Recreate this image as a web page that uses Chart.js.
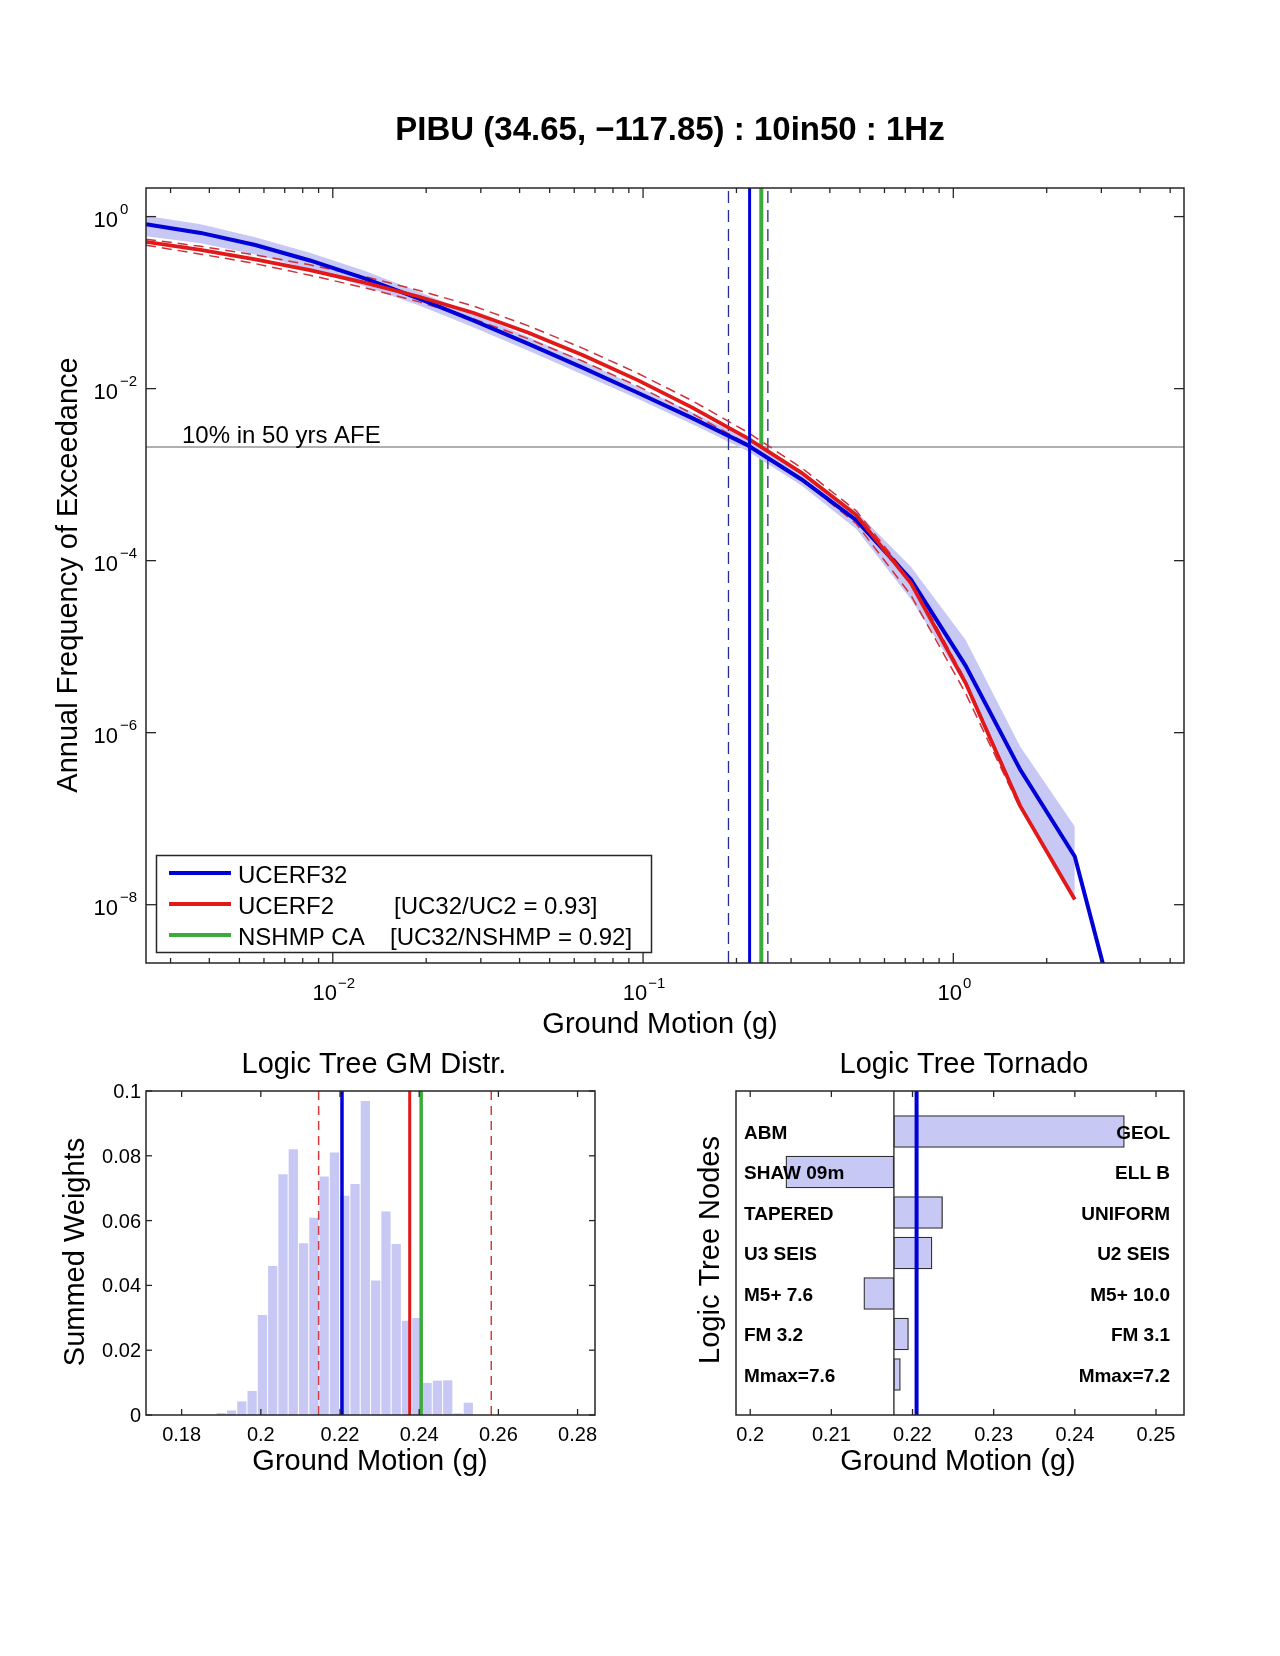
<!DOCTYPE html>
<html>
<head>
<meta charset="utf-8">
<script src="https://cdn.jsdelivr.net/npm/chart.js@4.4.1/dist/chart.umd.min.js"></script>
<style>
  html, body { margin: 0; padding: 0; background: #fff; }
  #page { position: relative; width: 1280px; height: 1656px; background: #fff; overflow: hidden; }
  canvas { position: absolute; }
</style>
</head>
<body>
<div id="page">
  <canvas id="hazard" width="1280" height="1060" style="left:0;top:0;width:1280px;height:1060px"></canvas>
  <canvas id="gmHist" width="640" height="470" style="left:0;top:1030px;width:640px;height:470px"></canvas>
  <canvas id="tornado" width="640" height="470" style="left:640px;top:1030px;width:640px;height:470px"></canvas>
</div>
<script>
// ---------------- data ----------------

// hazard curves (ground motion in g, annual frequency of exceedance)
var gmLevels = [0.0025, 0.00375, 0.005625, 0.0084375, 0.01265625, 0.01898438, 0.02847656, 0.04271484,
  0.06407227, 0.0961084, 0.1441626, 0.2162439, 0.3243658, 0.4865487, 0.7298231, 1.094735, 1.642102, 2.463153, 3.69473];
var ucerf32Afe = [0.813, 0.646, 0.468, 0.309, 0.191, 0.111, 0.0617, 0.0331, 0.0174, 0.00895, 0.00454, 0.00222,
  8.79e-4, 2.95e-4, 6.03e-5, 6.03e-6, 3.72e-7, 3.63e-8, 1.38e-10];
var ucerf32Upper = [1.023, 0.813, 0.575, 0.380, 0.234, 0.133, 0.0741, 0.0398, 0.0209, 0.0105, 0.00533, 0.00261,
  0.00106, 3.72e-4, 8.51e-5, 1.20e-5, 6.92e-7, 8.13e-8, null];
var ucerf32Lower = [0.589, 0.490, 0.363, 0.245, 0.155, 0.0923, 0.0513, 0.0275, 0.0145, 0.00762, 0.00386, 0.00189,
  7.48e-4, 2.34e-4, 3.55e-5, 3.55e-6, 1.41e-7, 1.23e-8, null];
var ucerf2Afe = [0.509, 0.411, 0.319, 0.239, 0.171, 0.117, 0.0757, 0.0446, 0.0245, 0.01256, 0.00601, 0.00267,
  0.00105, 3.39e-4, 5.50e-5, 3.80e-6, 1.41e-7, 1.15e-8, null];
var ucerf2Upper = [0.546, 0.451, 0.358, 0.275, 0.201, 0.138, 0.0910, 0.0536, 0.0294, 0.0151, 0.00723, 0.00314,
  0.00120, 3.80e-4, 6.03e-5, 4.07e-6, 1.48e-7, null, null];
var ucerf2Lower = [0.465, 0.366, 0.284, 0.208, 0.149, 0.102, 0.0644, 0.0379, 0.0208, 0.0107, 0.00512, 0.00228,
  8.71e-4, 2.69e-4, 3.98e-5, 2.88e-6, 1.32e-7, null, null];

var afe10in50 = 0.0021;
var gmUcerf32 = 0.2205;
var gmUcerf32Range = [0.1885, 0.2525];
var gmUcerf2 = 0.2376;
var gmUcerf2Range = [0.2146, 0.2582];
var gmNshmp = 0.2405;

var seriesNames = ['UCERF32', 'UCERF2', 'NSHMP CA'];
var ratioLabels = ['', '[UC32/UC2 = 0.93]', '[UC32/NSHMP = 0.92]'];
var xDecadeExps = [-2, -1, 0];
var yDecadeExps = [0, -2, -4, -6, -8];

// logic tree ground motion distribution
var binCenters = [0.1900, 0.1926, 0.1952, 0.1978, 0.2004, 0.2030, 0.2056, 0.2082, 0.2108, 0.2134, 0.2160, 0.2186,
  0.2212, 0.2238, 0.2264, 0.2290, 0.2316, 0.2342, 0.2368, 0.2394, 0.2420, 0.2446, 0.2472, 0.2498, 0.2524];
var binWeights = [0.0005, 0.0013, 0.0041, 0.0073, 0.0308, 0.0459, 0.0742, 0.0819, 0.0529, 0.0608, 0.0735, 0.0809,
  0.0676, 0.0712, 0.0968, 0.0414, 0.0627, 0.0527, 0.0290, 0.0298, 0.0098, 0.0105, 0.0106, 0.0004, 0.0037];
var histXTicks = [0.18, 0.2, 0.22, 0.24, 0.26, 0.28];
var histXLabels = ['0.18', '0.2', '0.22', '0.24', '0.26', '0.28'];
var histYTicks = [0, 0.02, 0.04, 0.06, 0.08, 0.1];
var histYLabels = ['0', '0.02', '0.04', '0.06', '0.08', '0.1'];

// logic tree tornado
var nodesLeft = ['ABM', 'SHAW 09m', 'TAPERED', 'U3 SEIS', 'M5+ 7.6', 'FM 3.2', 'Mmax=7.6'];
var nodesRight = ['GEOL', 'ELL B', 'UNIFORM', 'U2 SEIS', 'M5+ 10.0', 'FM 3.1', 'Mmax=7.2'];
var tornadoBase = 0.2177;
var tornadoEnd = [0.2461, 0.2044, 0.2237, 0.2224, 0.2140, 0.2195, 0.2185];
var tornadoXTicks = [0.2, 0.21, 0.22, 0.23, 0.24, 0.25];
var tornadoXLabels = ['0.2', '0.21', '0.22', '0.23', '0.24', '0.25'];

// ---------------- helpers ----------------
var FONT = '"Liberation Sans", Arial, Helvetica, sans-serif';
var INK = '#000';
var AXIS = '#262626';
var BLUE = 'rgb(0,0,215)';
var RED = 'rgb(225,25,25)';
var GREEN = 'rgb(60,170,60)';
var LAVENDER = 'rgb(200,200,245)';

function pts(xs, ys) {
  var out = [];
  for (var i = 0; i < xs.length; i++) {
    if (ys[i] != null) out.push({x: xs[i], y: ys[i]});
  }
  return out;
}
function vline(x, y0, y1) { return [{x: x, y: y0}, {x: x, y: y1}]; }
function hline(y, x0, x1) { return [{x: x0, y: y}, {x: x1, y: y}]; }

function lineSet(data, color, width, order, extra) {
  var d = {type: 'line', data: data, borderColor: color, borderWidth: width, pointRadius: 0,
    fill: false, tension: 0, order: order, borderCapStyle: 'butt'};
  for (var k in (extra || {})) d[k] = extra[k];
  return d;
}

function setFont(ctx, size, bold) { ctx.font = (bold ? 'bold ' : '') + size + 'px ' + FONT; }
function text(ctx, s, x, y, size, align, bold) {
  setFont(ctx, size, bold);
  ctx.textAlign = align || 'left';
  ctx.textBaseline = 'alphabetic';
  ctx.fillStyle = INK;
  ctx.fillText(s, x, y);
}
function vtext(ctx, s, baseX, centerY, size) {
  ctx.save();
  ctx.translate(baseX, centerY);
  ctx.rotate(-Math.PI / 2);
  text(ctx, s, 0, 0, size, 'center');
  ctx.restore();
}
function seg(ctx, x1, y1, x2, y2) {
  ctx.beginPath(); ctx.moveTo(x1, y1); ctx.lineTo(x2, y2); ctx.stroke();
}
function box(ctx, a) {
  ctx.strokeStyle = AXIS; ctx.lineWidth = 1.5; ctx.setLineDash([]);
  ctx.strokeRect(a.left, a.top, a.right - a.left, a.bottom - a.top);
}
function expLabel(e) { return e === 0 ? '0' : '\u2212' + Math.abs(e); }

var baseOptions = {
  responsive: false,
  animation: false,
  devicePixelRatio: 1,
  events: [],
  plugins: {legend: {display: false}, tooltip: {enabled: false}, title: {display: false}}
};
function opts(extra) {
  var o = JSON.parse(JSON.stringify(baseOptions));
  for (var k in extra) o[k] = extra[k];
  return o;
}

// ---------------- hazard curves ----------------
var yMin = 2.1e-9, yMax = 2.15, xMin = 0.0025, xMax = 5.54;

var hazardDecor = {
  id: 'hazardDecor',
  afterDraw: function (chart) {
    var ctx = chart.ctx, a = chart.chartArea, sx = chart.scales.x, sy = chart.scales.y;
    ctx.save();
    text(ctx, '10% in 50 yrs AFE', 182, 443, 24);

    // legend
    ctx.fillStyle = '#fff';
    ctx.fillRect(156, 855, 496, 97);
    ctx.strokeStyle = AXIS; ctx.lineWidth = 1.5;
    ctx.strokeRect(156.5, 855.5, 495, 97);
    var legendColors = [BLUE, RED, GREEN];
    var ratioX = [0, 394, 390];
    seriesNames.forEach(function (name, i) {
      var y = 873 + i * 31;
      ctx.strokeStyle = legendColors[i]; ctx.lineWidth = 4;
      seg(ctx, 169, y, 231, y);
      text(ctx, name, 238, y + 10, 24);
      if (ratioLabels[i]) text(ctx, ratioLabels[i], ratioX[i], y + 10, 24);
    });

    // frame and inward ticks
    box(ctx, a);
    ctx.lineWidth = 1.3;
    for (var d = -3; d <= 0; d++) {
      for (var m = 1; m < 10; m++) {
        var v = m * Math.pow(10, d);
        if (v < sx.min || v > sx.max) continue;
        var px = sx.getPixelForValue(v);
        var len = m === 1 ? 10 : 5;
        seg(ctx, px, a.bottom, px, a.bottom - len);
        seg(ctx, px, a.top, px, a.top + len);
      }
    }
    yDecadeExps.forEach(function (e) {
      var py = sy.getPixelForValue(Math.pow(10, e));
      seg(ctx, a.left, py, a.left + 10, py);
      seg(ctx, a.right, py, a.right - 10, py);
      text(ctx, '10', 118, py + 10, 22, 'right');
      text(ctx, expLabel(e), 120, py - 3, 15);
    });
    xDecadeExps.forEach(function (e) {
      var px = sx.getPixelForValue(Math.pow(10, e));
      setFont(ctx, 22); var w1 = ctx.measureText('10').width;
      setFont(ctx, 15); var w2 = ctx.measureText(expLabel(e)).width;
      var x0 = px + 1 - (w1 + w2 + 1) / 2;
      text(ctx, '10', x0, 1000, 22);
      text(ctx, expLabel(e), x0 + w1 + 1, 988, 15);
    });

    text(ctx, 'PIBU (34.65, \u2212117.85) : 10in50 : 1Hz', 670, 140, 33, 'center', true);
    text(ctx, 'Ground Motion (g)', 660, 1033, 29, 'center');
    vtext(ctx, 'Annual Frequency of Exceedance', 77, 575, 29);
    ctx.restore();
  }
};

new Chart(document.getElementById('hazard'), {
  type: 'line',
  data: {
    datasets: [
      lineSet(vline(gmUcerf32, yMin, yMax), BLUE, 3, 0),
      lineSet(pts(gmLevels, ucerf2Afe), RED, 3.8, 1, {label: seriesNames[1]}),
      lineSet(pts(gmLevels, ucerf32Afe), BLUE, 4, 2, {label: seriesNames[0]}),
      lineSet(pts(gmLevels, ucerf2Upper), 'rgb(205,50,60)', 1.5, 3, {borderDash: [10, 6]}),
      lineSet(pts(gmLevels, ucerf2Lower), 'rgb(205,50,60)', 1.5, 4, {borderDash: [10, 6]}),
      lineSet(vline(gmUcerf32Range[0], yMin, yMax), 'rgb(40,40,150)', 1.3, 5, {borderDash: [12, 7]}),
      lineSet(vline(gmUcerf32Range[1], yMin, yMax), 'rgb(40,40,150)', 1.3, 6, {borderDash: [12, 7]}),
      lineSet(pts(gmLevels, ucerf32Upper), 'rgba(0,0,0,0)', 0, 7, {fill: '+1', backgroundColor: LAVENDER}),
      lineSet(pts(gmLevels, ucerf32Lower), 'rgba(0,0,0,0)', 0, 8),
      lineSet(vline(gmNshmp, yMin, yMax), GREEN, 4, 9, {label: seriesNames[2]}),
      lineSet(hline(afe10in50, xMin, xMax), 'rgb(150,150,150)', 1.5, 10)
    ]
  },
  options: opts({
    layout: {padding: {left: 146, right: 96, top: 188, bottom: 97}},
    scales: {
      x: {type: 'logarithmic', min: xMin, max: xMax, display: false, bounds: 'data', offset: false},
      y: {type: 'logarithmic', min: yMin, max: yMax, display: false, bounds: 'data', offset: false}
    }
  }),
  plugins: [hazardDecor]
});

// ---------------- GM distribution ----------------
var histDecor = {
  id: 'histDecor',
  afterDraw: function (chart) {
    var ctx = chart.ctx, a = chart.chartArea, sx = chart.scales.x, sy = chart.scales.y;
    ctx.save();
    box(ctx, a);
    ctx.lineWidth = 1.3;
    histXTicks.forEach(function (v, i) {
      var px = sx.getPixelForValue(v);
      seg(ctx, px, a.bottom, px, a.bottom - 6);
      seg(ctx, px, a.top, px, a.top + 6);
      text(ctx, histXLabels[i], px, 411, 20, 'center');
    });
    histYTicks.forEach(function (v, i) {
      var py = sy.getPixelForValue(v);
      seg(ctx, a.left, py, a.left + 6, py);
      seg(ctx, a.right, py, a.right - 6, py);
      text(ctx, histYLabels[i], 141, py + 7, 20, 'right');
    });
    text(ctx, 'Logic Tree GM Distr.', 374, 43, 29, 'center');
    text(ctx, 'Ground Motion (g)', 370, 440, 29, 'center');
    vtext(ctx, 'Summed Weights', 84, 222, 29);
    ctx.restore();
  }
};

new Chart(document.getElementById('gmHist'), {
  type: 'bar',
  data: {
    datasets: [
      lineSet(vline(gmUcerf32, 0, 0.1), BLUE, 3.5, 0),
      lineSet(vline(gmNshmp, 0, 0.1), GREEN, 3.5, 1),
      lineSet(vline(gmUcerf2, 0, 0.1), RED, 3, 2),
      lineSet(vline(gmUcerf2Range[0], 0, 0.1), 'rgb(210,60,60)', 1.5, 3, {borderDash: [9, 6]}),
      lineSet(vline(gmUcerf2Range[1], 0, 0.1), 'rgb(210,60,60)', 1.5, 4, {borderDash: [9, 6]}),
      {type: 'bar', data: pts(binCenters, binWeights), backgroundColor: LAVENDER, borderWidth: 0,
        barThickness: 8.6, order: 5}
    ]
  },
  options: opts({
    layout: {padding: {left: 146, right: 45, top: 61, bottom: 85}},
    scales: {
      x: {type: 'linear', min: 0.1710, max: 0.2844, display: false, bounds: 'data', offset: false},
      y: {type: 'linear', min: 0, max: 0.1, display: false, bounds: 'data', offset: false}
    }
  }),
  plugins: [histDecor]
});

// ---------------- tornado ----------------
var tornadoDecor = {
  id: 'tornadoDecor',
  afterDraw: function (chart) {
    var ctx = chart.ctx, a = chart.chartArea, sx = chart.scales.x, sy = chart.scales.y;
    ctx.save();
    nodesLeft.forEach(function (s, i) {
      var py = sy.getPixelForValue(i + 1);
      text(ctx, s, 104, py + 7, 19, 'left', true);
      text(ctx, nodesRight[i], 530, py + 7, 19, 'right', true);
    });
    box(ctx, a);
    ctx.lineWidth = 1.3;
    tornadoXTicks.forEach(function (v, i) {
      var px = sx.getPixelForValue(v);
      seg(ctx, px, a.bottom, px, a.bottom - 6);
      seg(ctx, px, a.top, px, a.top + 6);
      text(ctx, tornadoXLabels[i], px, 411, 20, 'center');
    });
    text(ctx, 'Logic Tree Tornado', 324, 43, 29, 'center');
    text(ctx, 'Ground Motion (g)', 318, 440, 29, 'center');
    vtext(ctx, 'Logic Tree Nodes', 79, 220, 29);
    ctx.restore();
  }
};

new Chart(document.getElementById('tornado'), {
  type: 'bar',
  data: {
    datasets: [
      lineSet(vline(gmUcerf32, 0, 8), BLUE, 4, 0),
      {type: 'bar', indexAxis: 'y',
        data: tornadoEnd.map(function (e, i) { return {x: [tornadoBase, e], y: i + 1}; }),
        backgroundColor: LAVENDER, borderColor: '#303030', borderWidth: 1.3, borderSkipped: false,
        barThickness: 32, order: 1},
      lineSet(vline(tornadoBase, 0, 8), '#555', 1, 2)
    ]
  },
  options: opts({
    layout: {padding: {left: 96, right: 96, top: 61, bottom: 85}},
    scales: {
      x: {type: 'linear', min: 0.19825, max: 0.25345, display: false, bounds: 'data', offset: false},
      y: {type: 'linear', min: 0, max: 8, reverse: true, display: false, bounds: 'data', offset: false}
    }
  }),
  plugins: [tornadoDecor]
});
</script>
</body>
</html>
